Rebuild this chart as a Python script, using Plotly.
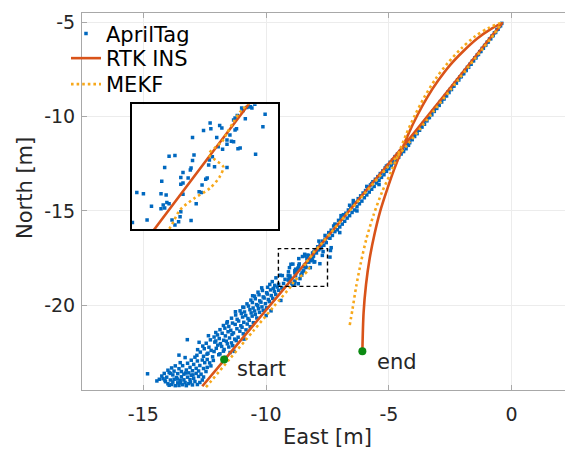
import plotly.graph_objects as go

# ---------------- data (East [m], North [m]) ----------------
# AprilTag detections: dense blob near the start
april_blob = [
    (-14.83, -23.64), (-14.45, -24.02), (-14.35, -23.93), (-14.25, -23.76), (-14.20, -23.90),
    (-14.15, -23.62), (-14.10, -24.06), (-14.05, -23.82), (-14.00, -24.17), (-14.00, -23.45),
    (-13.95, -23.57), (-13.95, -24.25), (-13.90, -23.97), (-13.85, -24.21), (-13.85, -23.33),
    (-13.80, -23.70), (-13.80, -24.08), (-13.75, -23.50), (-13.75, -23.93), (-13.70, -24.27),
    (-13.70, -23.22), (-13.65, -23.84), (-13.60, -24.12), (-13.60, -23.63), (-13.55, -23.37),
    (-13.55, -24.26), (-13.50, -23.98), (-13.50, -23.05), (-13.45, -23.52), (-13.45, -23.80),
    (-13.40, -24.22), (-13.40, -23.21), (-13.35, -23.66), (-13.35, -23.96), (-13.30, -24.10),
    (-13.30, -22.78), (-13.25, -23.44), (-13.25, -24.27), (-13.20, -23.82), (-13.20, -23.08),
    (-13.15, -23.59), (-13.15, -24.16), (-13.10, -23.30), (-13.10, -23.95), (-13.05, -22.92),
    (-13.05, -23.72), (-13.00, -24.23), (-13.00, -23.48), (-12.95, -23.14), (-12.95, -23.88),
    (-12.90, -22.76), (-12.90, -24.05), (-12.85, -23.62), (-12.85, -23.35), (-12.80, -24.21),
    (-12.80, -22.96), (-12.75, -23.78), (-12.75, -23.49), (-12.70, -23.20), (-12.70, -24.10),
    (-12.65, -23.66), (-12.60, -22.91), (-12.60, -23.97), (-12.55, -23.36), (-12.55, -23.81),
    (-12.50, -23.05), (-12.45, -23.52), (-12.40, -22.88), (-12.40, -23.30), (-12.30, -23.06),
    (-12.25, -23.22), (-12.15, -22.93), (-13.55, -22.65), (-14.12, -23.98), (-13.62, -23.92),
    (-13.28, -23.60), (-12.98, -23.70), (-13.90, -23.62), (-13.48, -24.12), (-13.08, -24.08),
]
# AprilTag detections: wide cloud above the track between start and the zoom box
april_band_low = [
    (-12.82, -22.66), (-12.55, -22.71), (-12.41, -22.60), (-12.18, -22.74), (-11.93, -22.63), (-11.66, -22.77),
    (-12.68, -22.49), (-12.37, -22.55), (-12.12, -22.46), (-11.88, -22.58), (-11.74, -22.44), (-11.47, -22.51),
    (-12.79, -22.36), (-12.52, -22.31), (-12.24, -22.40), (-12.03, -22.29), (-11.71, -22.35), (-11.52, -22.22),
    (-12.58, -22.17), (-12.33, -22.23), (-11.97, -22.12), (-11.81, -22.19), (-11.58, -22.05), (-11.36, -22.15),
    (-12.44, -22.02), (-12.09, -21.96), (-11.86, -22.04), (-11.62, -21.91), (-11.41, -22.00), (-11.22, -21.88),
    (-12.73, -21.97), (-12.27, -21.84), (-11.91, -21.77), (-11.73, -21.86), (-11.49, -21.74), (-11.28, -21.80),
    (-13.21, -21.83), (-12.12, -21.69), (-11.98, -21.58), (-11.66, -21.63), (-11.39, -21.55), (-11.14, -21.70),
    (-12.05, -21.45), (-11.79, -21.49), (-11.55, -21.41), (-11.33, -21.47), (-11.07, -21.38), (-10.93, -21.52),
    (-11.88, -21.30), (-11.68, -21.22), (-11.44, -21.33), (-11.19, -21.25), (-10.98, -21.17), (-10.82, -21.31),
    (-11.74, -21.08), (-11.52, -21.13), (-11.26, -21.02), (-11.03, -21.09), (-10.77, -21.00), (-10.65, -21.14),
    (-11.58, -20.88), (-11.37, -20.95), (-11.12, -20.84), (-10.91, -20.91), (-10.69, -20.80), (-10.52, -20.93),
    (-11.41, -20.69), (-11.18, -20.75), (-10.96, -20.63), (-10.74, -20.71), (-10.57, -20.58), (-10.38, -20.68),
    (-11.24, -20.52), (-11.01, -20.44), (-10.83, -20.55), (-10.61, -20.41), (-10.44, -20.49), (-10.27, -20.38),
    (-11.06, -20.30), (-10.88, -20.36), (-10.66, -20.24), (-10.47, -20.31), (-10.31, -20.19), (-10.12, -20.27),
    (-10.91, -20.12), (-10.72, -20.05), (-10.53, -20.15), (-10.34, -20.02), (-10.17, -20.09), (-9.98, -20.14),
    (-10.78, -19.93), (-10.56, -19.86), (-10.39, -19.97), (-10.21, -19.84), (-10.03, -19.92), (-9.87, -19.81),
    (-10.62, -19.73), (-10.44, -19.66), (-10.26, -19.77), (-10.08, -19.62), (-9.91, -19.70), (-9.73, -19.64),
    (-10.47, -19.52), (-10.29, -19.45), (-10.12, -19.56), (-9.95, -19.41), (-9.79, -19.49), (-9.61, -19.43),
    (-10.33, -19.31), (-10.15, -19.22), (-9.98, -19.34), (-9.82, -19.19), (-9.66, -19.27), (-9.49, -19.21),
    (-10.18, -19.08), (-9.94, -19.05), (-9.71, -19.11), (-9.55, -19.04), (-9.36, -19.09),
    (-10.00, -20.55), (-10.90, -21.80), (-11.30, -22.45), (-9.40, -19.75), (-9.80, -20.30), (-9.75, -18.75),
    (-9.60, -18.55), (-9.85, -18.90), (-9.65, -18.95), (-12.05, -21.90), (-11.60, -20.95), (-12.35, -21.62),
    (-10.95, -20.10), (-11.25, -20.35), (-10.55, -19.50),
]
# AprilTag detections inside the zoom box (shown in the inset)
april_box = [
    (-9.43, -18.41), (-9.34, -18.43), (-9.49, -18.89), (-9.23, -18.63), (-9.29, -18.85), (-9.10, -18.43),
    (-9.03, -18.45), (-9.09, -18.23), (-9.05, -18.01), (-8.99, -17.83), (-8.91, -17.82), (-9.07, -18.61),
    (-9.02, -18.57), (-8.99, -18.59), (-9.05, -18.66), (-9.10, -18.67), (-8.83, -18.28), (-8.80, -18.26),
    (-8.83, -18.17), (-8.80, -18.09), (-8.70, -18.05), (-8.69, -18.02), (-8.67, -17.90), (-8.65, -17.81),
    (-8.67, -17.53), (-8.80, -18.44), (-8.95, -18.85), (-8.86, -18.88), (-8.84, -18.80), (-8.83, -18.72),
    (-8.69, -18.86), (-8.62, -18.59), (-8.58, -18.40), (-8.55, -18.41), (-8.54, -18.29), (-8.49, -18.20),
    (-8.47, -18.18), (-8.45, -17.97), (-8.44, -17.89), (-8.43, -17.30), (-8.42, -17.39), (-8.52, -17.42),
    (-8.30, -17.34), (-8.34, -17.53), (-8.32, -17.68), (-8.40, -17.84), (-8.37, -18.00), (-8.27, -17.38),
    (-8.20, -17.57), (-8.20, -17.64), (-8.16, -17.49), (-8.14, -17.59), (-8.11, -17.60), (-8.26, -17.72),
    (-8.20, -18.01), (-8.09, -17.41), (-8.07, -17.39), (-8.11, -17.25), (-8.09, -17.22), (-8.06, -17.18),
    (-8.05, -17.71), (-8.02, -17.70), (-8.00, -17.06), (-7.98, -17.10), (-7.95, -17.23), (-7.93, -17.05),
    (-7.90, -17.04), (-7.88, -17.04), (-7.86, -17.06), (-7.82, -17.00), (-7.81, -17.80), (-7.71, -17.36),
    (-7.68, -17.16), (-8.73, -18.18), (-8.91, -18.93),
]
# AprilTag detections: narrow band from the zoom box up to the turn
april_band_high = [
    (-7.90, -16.90), (-7.80, -16.75), (-7.75, -16.95), (-7.70, -16.60), (-7.65, -16.82), (-7.60, -16.50),
    (-7.55, -16.68), (-7.50, -16.42), (-7.60, -16.30), (-7.85, -16.60), (-7.38, -17.10), (-7.40, -17.45),
    (-7.35, -16.95),
    (-7.45, -16.15), (-7.40, -16.45), (-7.35, -16.02), (-7.30, -16.30), (-7.25, -15.80), (-7.20, -16.10),
    (-7.15, -15.72), (-7.10, -16.00), (-7.05, -15.50), (-7.00, -15.85), (-6.95, -15.42), (-6.90, -15.70),
    (-6.85, -15.20), (-6.80, -15.55), (-6.75, -15.12), (-6.70, -15.38), (-6.65, -14.95), (-6.60, -15.25),
    (-6.55, -14.80), (-6.50, -15.08), (-6.45, -14.62), (-6.40, -14.95), (-6.35, -14.55), (-6.30, -14.78),
    (-6.25, -14.35), (-6.20, -14.62), (-6.15, -14.20), (-6.10, -14.48), (-6.05, -14.05), (-6.00, -14.30),
    (-5.95, -13.92), (-5.90, -14.15), (-5.85, -13.75), (-5.80, -14.00), (-5.75, -13.62), (-5.70, -13.85),
    (-5.65, -13.45), (-5.60, -13.70), (-5.55, -13.32), (-5.50, -13.52), (-5.45, -13.18), (-5.40, -13.38),
    (-5.35, -13.02), (-5.30, -13.22), (-5.25, -12.88), (-5.20, -13.08), (-5.15, -12.72), (-5.10, -12.90),
    (-5.05, -12.58), (-5.00, -12.76), (-4.95, -12.42), (-4.90, -12.60), (-4.85, -12.30), (-4.80, -12.45),
    (-4.75, -12.12), (-4.70, -12.30), (-4.65, -11.98), (-4.60, -12.15), (-4.55, -11.85), (-4.50, -11.98),
    (-4.45, -11.70), (-4.40, -11.85), (-4.35, -11.55), (-4.30, -11.70), (-4.25, -11.42), (-4.20, -11.52),
    (-7.20, -15.70), (-6.60, -14.70), (-5.90, -13.70), (-6.30, -15.00), (-7.00, -16.15), (-5.40, -13.60),
    (-6.95, -15.25), (-6.45, -14.45), (-5.70, -13.55), (-5.10, -12.62),
    (-4.15, -11.38), (-4.10, -11.18), (-4.05, -11.22), (-4.00, -11.02), (-3.95, -11.05), (-3.90, -10.85),
    (-3.85, -10.90), (-3.80, -10.70), (-3.75, -10.72), (-3.70, -10.55), (-3.65, -10.55), (-3.60, -10.36),
    (-3.55, -10.40), (-3.50, -10.20), (-3.45, -10.22), (-3.40, -10.05), (-3.35, -10.05), (-3.30, -9.88),
    (-3.25, -9.90), (-3.20, -9.70), (-3.15, -9.72), (-3.10, -9.55), (-3.05, -9.56), (-3.00, -9.38),
    (-2.95, -9.40), (-2.90, -9.20), (-2.85, -9.22), (-2.80, -9.05), (-2.75, -9.06), (-2.70, -8.88),
    (-2.65, -8.90), (-2.60, -8.70), (-2.55, -8.72), (-2.50, -8.55), (-2.45, -8.56), (-2.40, -8.38),
    (-2.35, -8.38), (-2.30, -8.22), (-2.25, -8.22), (-2.20, -8.04), (-2.15, -8.05), (-2.10, -7.88),
    (-2.05, -7.88), (-2.00, -7.72), (-1.95, -7.72), (-1.90, -7.55), (-1.85, -7.55), (-1.80, -7.38),
    (-1.75, -7.38), (-1.70, -7.22), (-1.65, -7.22), (-1.60, -7.05), (-1.55, -7.04), (-1.50, -6.88),
    (-1.45, -6.88), (-1.40, -6.72), (-1.35, -6.70), (-1.30, -6.55), (-1.25, -6.54), (-1.20, -6.38),
    (-1.15, -6.37), (-1.10, -6.22), (-1.05, -6.20), (-1.00, -6.05), (-0.95, -6.04), (-0.90, -5.88),
    (-0.85, -5.87), (-0.80, -5.72), (-0.75, -5.70), (-0.70, -5.55), (-0.65, -5.53), (-0.60, -5.38),
    (-0.55, -5.36), (-0.50, -5.22), (-0.45, -5.18), (-0.40, -5.05),
]

# RTK INS track (outbound, turn, return to end)
rtk_east = [-12.6, -11.7, -10.6, -9.55, -8.6, -7.95, -7.0, -6.2, -5.2, -4.3, -3.3, -2.3, -1.3, -0.75, -0.38,
            -0.85, -1.4, -1.95, -2.5, -3.0, -3.45, -3.85, -4.2, -4.5, -4.8, -5.08, -5.35, -5.58, -5.78,
            -5.93, -6.03, -6.08]
rtk_north = [-24.3, -22.9, -21.19, -19.56, -18.08, -17.07, -15.59, -14.35, -12.79, -11.39, -9.77, -8.15, -6.52,
             -5.62, -5.03, -5.35, -5.85, -6.5, -7.25, -8.1, -9.0, -9.95, -10.9, -11.85, -12.85, -13.9, -15.0,
             -16.2, -17.5, -18.9, -20.4, -22.44]

# MEKF estimate
mekf_east = [-12.45, -11.5, -10.5, -9.7, -8.98, -8.84, -8.64, -8.43, -8.30, -8.25, -8.36, -8.45, -8.36, -8.27,
             -8.20, -8.11, -8.02, -7.93, -7.0, -6.0, -5.0, -4.2, -3.2, -2.2, -1.2, -0.7, -0.45,
             -0.95, -1.5, -2.05, -2.6, -3.1, -3.55, -3.95, -4.3, -4.62, -4.95, -5.28, -5.62, -5.92, -6.15,
             -6.33, -6.48, -6.6]
mekf_north = [-24.35, -22.88, -21.33, -20.09, -18.98, -18.69, -18.50, -18.34, -18.16, -18.0, -17.89, -17.80,
              -17.69, -17.60, -17.46, -17.28, -17.12, -17.01, -15.6, -14.1, -12.6, -11.42, -9.75, -8.1, -6.43,
              -5.6, -5.05, -5.3, -5.75, -6.38, -7.15, -8.0, -8.95, -9.95, -10.95, -12.0, -13.05, -14.0,
              -15.2, -16.5, -17.8, -19.0, -20.2, -21.1]

start_point = (-11.71, -22.88)
end_point = (-6.08, -22.44)
start_label_pos = (-11.25, -23.36)
end_label_pos = (-5.55, -23.0)

zoom_box_east = [-9.5, -7.5]
zoom_box_north = [-19.0, -17.0]

x_ticks = [-15, -10, -5, 0]
x_tick_text = ["-15", "-10", "-5", "0"]
y_ticks = [-20, -15, -10, -5]
y_tick_text = ["-20", "-15", "-10", "-5"]

# ---------------- styling ----------------
BLUE = "#0068BF"
ORANGE = "#D95319"
YELLOW = "#F7A81B"
GREEN = "#0B8A12"
FONT = "DejaVu Sans"
TXT = "#262626"

april = april_blob + april_band_low + april_box + april_band_high
april_east = [p[0] for p in april]
april_north = [p[1] for p in april]

fig = go.Figure()

legend_ids = ["legend", "legend2", "legend3"]
for ax, show in (("", True), ("2", False)):
    xa, ya = "x" + ax, "y" + ax
    fig.add_trace(go.Scatter(x=april_east, y=april_north, mode="markers", name="AprilTag",
                             marker=dict(symbol="square", size=3.5, color=BLUE, line=dict(width=0)),
                             xaxis=xa, yaxis=ya, showlegend=show, legend=legend_ids[0]))
    fig.add_trace(go.Scatter(x=rtk_east, y=rtk_north, mode="lines", name="RTK INS",
                             line=dict(color=ORANGE, width=2.6, shape="spline", smoothing=0.8),
                             xaxis=xa, yaxis=ya, showlegend=show, legend=legend_ids[1]))
    fig.add_trace(go.Scatter(x=mekf_east, y=mekf_north, mode="lines", name="MEKF",
                             line=dict(color=YELLOW, width=2.6, dash="2.6px,3px", shape="spline", smoothing=0.8),
                             xaxis=xa, yaxis=ya, showlegend=show, legend=legend_ids[2]))

fig.add_trace(go.Scatter(x=[start_point[0], end_point[0]], y=[start_point[1], end_point[1]],
                         mode="markers", marker=dict(size=8, color=GREEN), showlegend=False))

fig.add_shape(type="rect", xref="x", yref="y", x0=zoom_box_east[0], x1=zoom_box_east[1],
              y0=zoom_box_north[0], y1=zoom_box_north[1],
              line=dict(color="black", width=1.4, dash="4px,3px"), layer="above")

fig.add_annotation(x=start_label_pos[0], y=start_label_pos[1], text="start", showarrow=False,
                   xanchor="left", yanchor="middle", font=dict(family=FONT, size=21, color=TXT))
fig.add_annotation(x=end_label_pos[0], y=end_label_pos[1], text="end", showarrow=False,
                   xanchor="left", yanchor="middle", font=dict(family=FONT, size=21, color=TXT))
# y-axis label (placed as in the reference, slightly above the axis centre)
fig.add_annotation(xref="paper", yref="paper", x=-0.1161, y=0.5358, text="North [m]", textangle=-90,
                   showarrow=False, xanchor="center", yanchor="middle",
                   font=dict(family=FONT, size=21, color=TXT))

axis_common = dict(showline=True, linecolor="#a8a8a8", linewidth=1, mirror="ticks", ticks="inside",
                   ticklen=5, tickcolor="#a8a8a8", showgrid=True, gridcolor="#ececec", zeroline=False,
                   automargin=False, tickfont=dict(family=FONT, size=19, color=TXT))

legend_common = dict(x=-0.0326, xanchor="left", yanchor="top", bgcolor="rgba(255,255,255,0)",
                     borderwidth=0, font=dict(family=FONT, size=21, color="black"))

# the page body adds an 8 px offset, so the figure is 8 px smaller and margins shifted
fig.update_layout(
    width=565, height=441,
    margin=dict(l=74, r=0, t=5, b=59),
    paper_bgcolor="white", plot_bgcolor="white",
    font=dict(family=FONT, color=TXT),
    xaxis=dict(range=[-17.5, 2.5], tickvals=x_ticks, ticktext=x_tick_text, ticklabelstandoff=7,
               title=dict(text="East [m]", font=dict(family=FONT, size=21, color=TXT), standoff=13),
               **axis_common),
    yaxis=dict(range=[-24.5, -4.5], tickvals=y_ticks, ticktext=y_tick_text, ticklabelstandoff=2,
               **axis_common),
    xaxis2=dict(domain=[0.1012, 0.3998], range=zoom_box_east, anchor="y2", showline=True, mirror=True,
                linecolor="black", linewidth=2, showticklabels=False, ticks="", showgrid=False,
                zeroline=False),
    yaxis2=dict(domain=[0.4263, 0.7578], range=zoom_box_north, anchor="x2", showline=True, mirror=True,
                linecolor="black", linewidth=2, showticklabels=False, ticks="", showgrid=False,
                zeroline=False),
    legend=dict(y=0.999, **legend_common),
    legend2=dict(y=0.9337, **legend_common),
    legend3=dict(y=0.8647, **legend_common),
    showlegend=True,
)

fig.write_html("out.html")
